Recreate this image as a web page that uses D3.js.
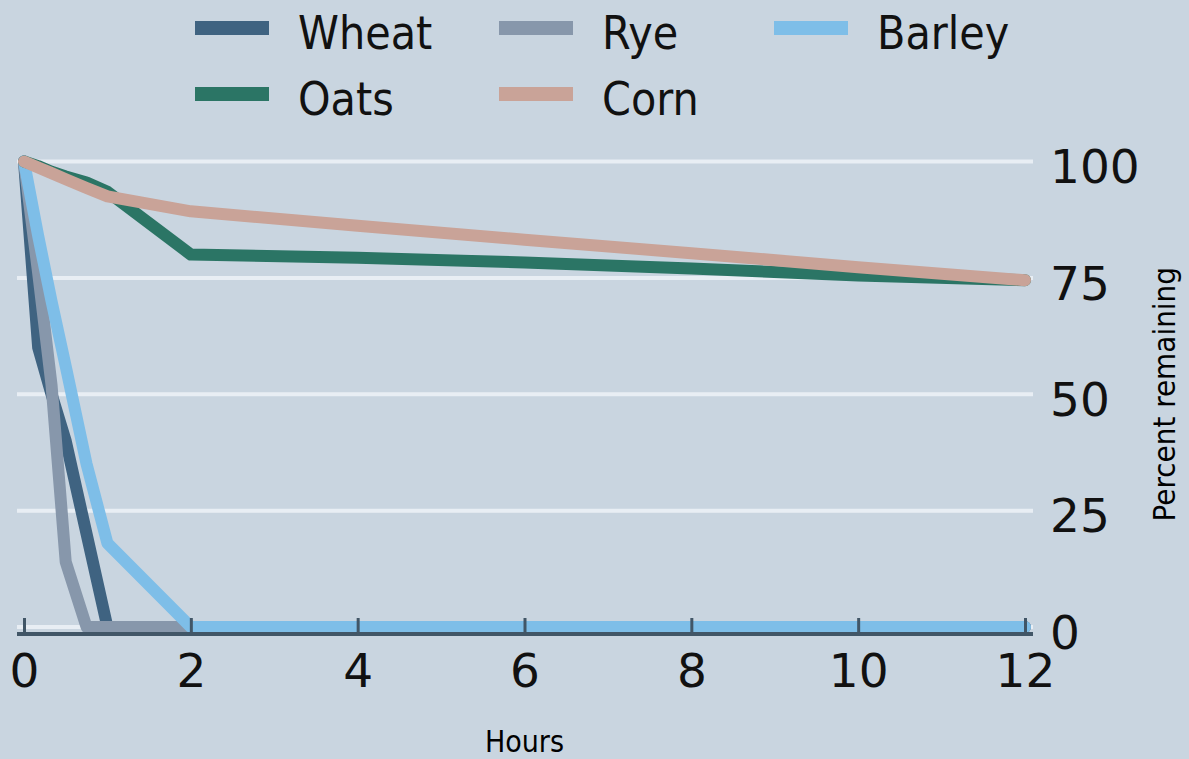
<!DOCTYPE html>
<html>
<head>
<meta charset="utf-8">
<script src="https://cdn.jsdelivr.net/npm/d3@7"></script>
<style>
    body { margin: 0; background: #c9d5e0; }
    svg { display: block; }
</style>
</head>
<body>
<svg id="drawing_region"></svg>
<script>
// hours after start
const hours = [0, 0.17, 0.33, 0.5, 0.75, 1, 2, 4, 6, 8, 10, 12];

// percent remaining per grain
const wheat  = [100, 60, 50, 40, 20, 0, 0, 0, 0, 0, 0, 0];
const rye    = [100, 76, 52, 14, 0, 0, 0, 0, 0, 0, 0, 0];
const barley = [100, 84, 70, 56, 35, 18, 0, 0, 0, 0, 0, 0];
const oats   = [100, 99, 97.8, 96.8, 95.5, 93.5, 80, 79.3, 78.3, 77, 75.5, 74.5];
const corn   = [100, 98.7, 97.5, 96.2, 94.3, 92.5, 89.3, 86.2, 83.2, 80.3, 77.3, 74.5];

const series_names = ["Wheat", "Rye", "Barley", "Oats", "Corn"];
const series_values = [wheat, rye, barley, oats, corn];

const x_ticks = [0, 2, 4, 6, 8, 10, 12];
const y_ticks = [0, 25, 50, 75, 100];

const colors = {
    Wheat: "#3f6381",
    Rye: "#8797ab",
    Barley: "#7ebee8",
    Oats: "#2b7565",
    Corn: "#c9a398"
};

class LineChart {

    constructor( config, data ) {
        this.config = {
            parent: config.parent,
            width: config.width || 256,
            height: config.height || 256,
            margin: config.margin || {top:10, right:10, bottom:10, left:10},
        }
        this.data = data;
        this.init();
    }

    init() {
        let self = this;

        self.svg = d3.select( self.config.parent )
            .attr('width', self.config.width)
            .attr('height', self.config.height);

        self.chart = self.svg.append('g')
            .attr('transform', `translate(${self.config.margin.left}, ${self.config.margin.top})`);

        self.inner_width = self.config.width - self.config.margin.left - self.config.margin.right;
        self.inner_height = self.config.height - self.config.margin.top - self.config.margin.bottom;

        self.xscale = d3.scaleLinear()
            .domain([0, 12])
            .range([0, self.inner_width]);

        self.yscale = d3.scaleLinear()
            .domain([0, 100])
            .range([self.inner_height, 0]);

        // grid lines
        self.chart.append('g')
            .selectAll('line')
            .data(y_ticks)
            .join('line')
            .attr('x1', -7)
            .attr('x2', self.inner_width + 8)
            .attr('y1', d => self.yscale(d))
            .attr('y2', d => self.yscale(d))
            .attr('stroke', '#e8eef4')
            .attr('stroke-width', 4);

        // lines go under the axis ticks
        self.line_group = self.chart.append('g');

        // bottom axis
        self.xaxis = d3.axisBottom( self.xscale )
            .tickValues(x_ticks)
            .tickSizeInner(-16)
            .tickSizeOuter(0)
            .tickPadding(20);
        self.xaxis_group = self.chart.append('g')
            .attr('transform', `translate(0, ${self.inner_height + 7})`);

        // right axis (labels only)
        self.yaxis = d3.axisRight( self.yscale )
            .tickValues(y_ticks)
            .tickSize(0)
            .tickPadding(25);
        self.yaxis_group = self.chart.append('g')
            .attr('transform', `translate(${self.inner_width}, 0)`);

        // axis titles
        self.svg.append('text')
            .attr('x', self.config.margin.left + self.xscale(6))
            .attr('y', self.config.height - 7)
            .attr('text-anchor', 'middle')
            .attr('font-family', '"DejaVu Sans Condensed", "DejaVu Sans", sans-serif')
            .attr('font-size', '30px')
            .text('Hours');

        self.svg.append('text')
            .attr('transform', `translate(1175, ${self.config.margin.top + self.yscale(50)}) rotate(-90)`)
            .attr('text-anchor', 'middle')
            .attr('font-family', '"DejaVu Sans Condensed", "DejaVu Sans", sans-serif')
            .attr('font-size', '31px')
            .text('Percent remaining');

        // legend
        const legend_x = [195, 499, 774];
        const legend = self.svg.append('g')
            .selectAll('g')
            .data(self.data)
            .join('g')
            .attr('transform', (d, i) => `translate(${legend_x[i % 3]}, ${28 + Math.floor(i / 3) * 66})`);
        legend.append('rect')
            .attr('x', 0)
            .attr('y', -7)
            .attr('width', 74)
            .attr('height', 14)
            .attr('fill', d => colors[d.name]);
        legend.append('text')
            .attr('x', 103)
            .attr('y', 21)
            .attr('font-family', '"DejaVu Sans Condensed", "DejaVu Sans", sans-serif')
            .attr('font-size', '46px')
            .attr('fill', '#111')
            .text(d => d.name);
    }

    update() {
        let self = this;
        self.render();
    }

    render() {
        let self = this;

        const line = d3.line()
            .x( d => self.xscale(d.x) )
            .y( d => self.yscale(d.y) );

        self.line_group.selectAll('path')
            .data(self.data)
            .join('path')
            .attr('d', d => line(d.values))
            .attr('fill', 'none')
            .attr('stroke', d => colors[d.name])
            .attr('stroke-width', 12)
            .attr('stroke-linejoin', 'round')
            .attr('stroke-linecap', 'round');

        self.xaxis_group.call( self.xaxis );
        self.xaxis_group.select('.domain').remove();
        self.xaxis_group.insert('line', ':first-child')
            .attr('x1', -7)
            .attr('x2', self.inner_width + 8)
            .attr('stroke', '#415667')
            .attr('stroke-width', 4);
        self.xaxis_group.selectAll('.tick line')
            .attr('stroke', '#415667')
            .attr('stroke-width', 3);
        self.xaxis_group.selectAll('.tick text')
            .attr('font-family', '"DejaVu Sans", sans-serif')
            .attr('font-size', '47px')
            .attr('fill', '#111');

        self.yaxis_group.call( self.yaxis );
        self.yaxis_group.select('.domain').remove();
        self.yaxis_group.selectAll('.tick text')
            .attr('font-family', '"DejaVu Sans", sans-serif')
            .attr('font-size', '47px')
            .attr('fill', '#111')
            .attr('dy', '0.45em');
    }
}

const data = series_names.map( (name, i) => ({
    name: name,
    values: hours.map( (h, j) => ({ x: h, y: series_values[i][j] }) )
}));

const config = {
    parent: '#drawing_region',
    width: 1189,
    height: 759,
    margin: {top:161.5, right:164, bottom:132, left:24}
};

const linechart = new LineChart( config, data );
linechart.update();
</script>
</body>
</html>
